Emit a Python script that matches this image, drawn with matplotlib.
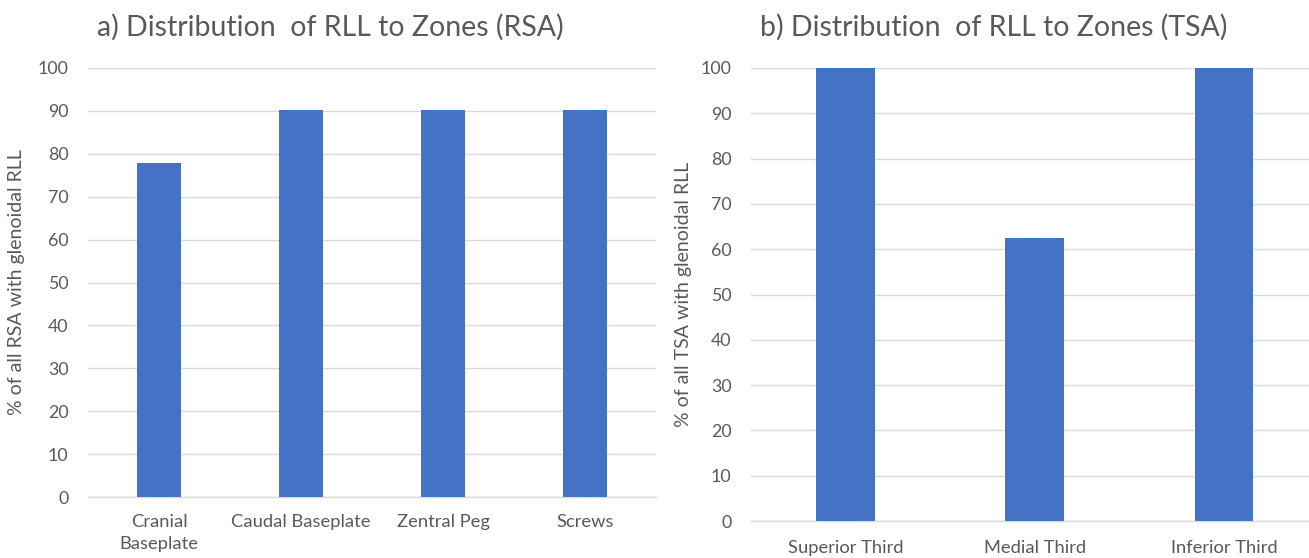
import matplotlib.pyplot as plt

plt.rcParams['font.family'] = ['Lato', 'DejaVu Sans']

rsa_zones = ['Cranial\nBaseplate', 'Caudal Baseplate', 'Zentral Peg', 'Screws']
rsa_values = [77.8, 90.3, 90.3, 90.3]
tsa_zones = ['Superior Third', 'Medial Third', 'Inferior Third']
tsa_values = [100, 62.5, 100]
yticks = list(range(0, 101, 10))

bar_color = '#4472C4'
grid_color = '#D9D9D9'
text_color = '#595959'

W, H = 1309, 558
fig = plt.figure(figsize=(W / 100, H / 100), dpi=100)
fig.patch.set_facecolor('white')

def px_axes(x0, x1, y_top, y_bot):
    return fig.add_axes([x0 / W, 1 - y_bot / H, (x1 - x0) / W, (y_bot - y_top) / H])

def style(ax, cats, vals, xlim, ylabel, lpad, xpad):
    ax.bar(range(len(cats)), vals, width=0.31, color=bar_color, zorder=3)
    ax.set_xlim(*xlim)
    ax.set_ylim(0, 100)
    ax.set_yticks(yticks)
    ax.set_xticks(range(len(cats)))
    ax.set_xticklabels(cats, fontsize=13.2, color=text_color, linespacing=1.45)
    ax.tick_params(axis='y', labelsize=12.8, labelcolor=text_color, length=0, pad=14)
    ax.tick_params(axis='x', length=0, pad=xpad)
    ax.grid(axis='y', color=grid_color, linewidth=1, zorder=0)
    for s in ['top', 'right', 'left']:
        ax.spines[s].set_visible(False)
    ax.spines['bottom'].set_color(grid_color)
    ax.spines['bottom'].set_linewidth(1)
    ax.set_ylabel(ylabel, fontsize=14, color=text_color, labelpad=lpad)

ax1 = px_axes(88, 656, 68, 497)
style(ax1, rsa_zones, rsa_values, (-0.5, 3.5), '% of all RSA with glenoidal RLL', 9, 12)

ax2 = px_axes(751, 1309, 68, 521)
style(ax2, tsa_zones, tsa_values, (-0.5, 2.45), '% of all TSA with glenoidal RLL', 6, 14)

fig.text(330 / W, 1 - 27 / H, 'a) Distribution  of RLL to Zones (RSA)', fontsize=20.5,
         color=text_color, ha='center', va='center')
fig.text(994 / W, 1 - 27 / H, 'b) Distribution  of RLL to Zones (TSA)', fontsize=20.5,
         color=text_color, ha='center', va='center')

fig.savefig('out.png', dpi=100)
